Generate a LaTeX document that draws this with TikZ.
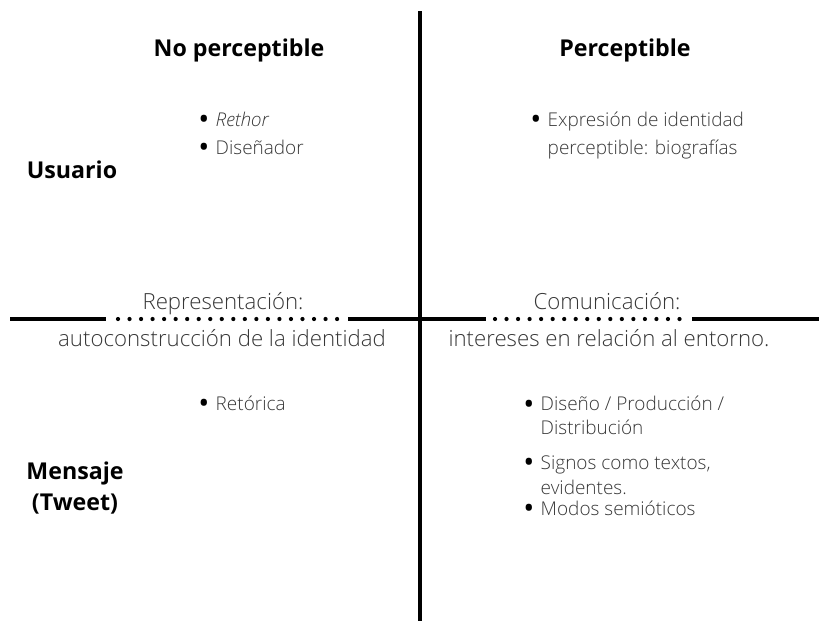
\documentclass[tikz,border=0pt]{standalone}
\usepackage{fontspec}
\setmainfont{Open Sans}
\newfontfamily\lightfont{Open Sans Light}
\definecolor{inkgray}{RGB}{55, 55, 55}
\usetikzlibrary{positioning}

% bullet with a fixed gap before the item text
\newcommand{\bul}{\makebox[12.4pt][l]{\raisebox{-2.4pt}{\scalebox{1.55}{\fontspec{Open Sans}\textcolor{black}{\textbullet}}}}}
\newcommand{\hang}{\hspace*{12.4pt}}

\begin{document}
\begin{tikzpicture}[x=0.025cm, y=-0.025cm,
  head/.style={font=\fontsize{16.5}{22}\selectfont\bfseries, anchor=base, inner sep=0pt},
  item/.style={font=\lightfont\fontsize{13.5}{19.5}\selectfont, text=inkgray, anchor=base west, align=left, inner sep=0pt},
  axislabel/.style={font=\lightfont\fontsize{15.8}{20}\selectfont, text=inkgray, anchor=base, inner sep=0pt},
  axisline/.style={line width=2.2pt},
  dotline/.style={line width=3pt, line cap=round, dash pattern=on 0pt off 8.2pt}]
  \useasboundingbox (0, 0) rectangle (819, 621);

  % axes
  \coordinate (top) at (420, 11);
  \coordinate (bottom) at (420, 621);
  \draw[axisline] (top) -- (bottom);

  \draw[axisline] (10, 319) -- (106, 319);
  \draw[dotline] (118, 319) -- (340, 319);
  \draw[axisline] (348, 319) -- (486, 319);
  \draw[dotline] (495, 319) -- (684, 319);
  \draw[axisline] (692, 319) -- (819, 319);

  % column and row headings (multi-line nodes sit on their last line)
  \node[head] (noperc) at (239, 56) {No perceptible};
  \node[head] (perc) at (625, 56) {Perceptible};
  \node[head] (usuario) at (72, 178) {Usuario};
  \node[head, align=center] (mensaje) at (75, 510) {Mensaje\\(Tweet)};

  % labels on the horizontal axis
  \node[axislabel] (repr) at (223, 309) {Representación:};
  \node[axislabel] (autoc) at (222, 346) {autoconstrucción de la identidad};
  \node[axislabel] (comun) at (607, 309) {Comunicación:};
  \node[axislabel] (inter) at (609, 346) {intereses en relación al entorno.};

  % upper quadrants
  \node[item] (rethor) at (198, 154) {\bul\textit{Rethor}\\\bul Diseñador};
  \node[item] (expr) at (530, 154) {\bul Expresión de identidad\\\hang perceptible: biografías};

  % lower quadrants
  \node[item] (retor) at (198, 410) {\bul Retórica};
  \node[item] (dise) at (523, 434) {\bul Diseño / Producción /\\[-3pt]\hang Distribución};
  \node[item] (signos) at (523, 494) {\bul Signos como textos,\\[-2pt]\hang evidentes.};
  \node[item] (modos) at (523, 515) {\bul Modos semióticos};
\end{tikzpicture}
\end{document}
